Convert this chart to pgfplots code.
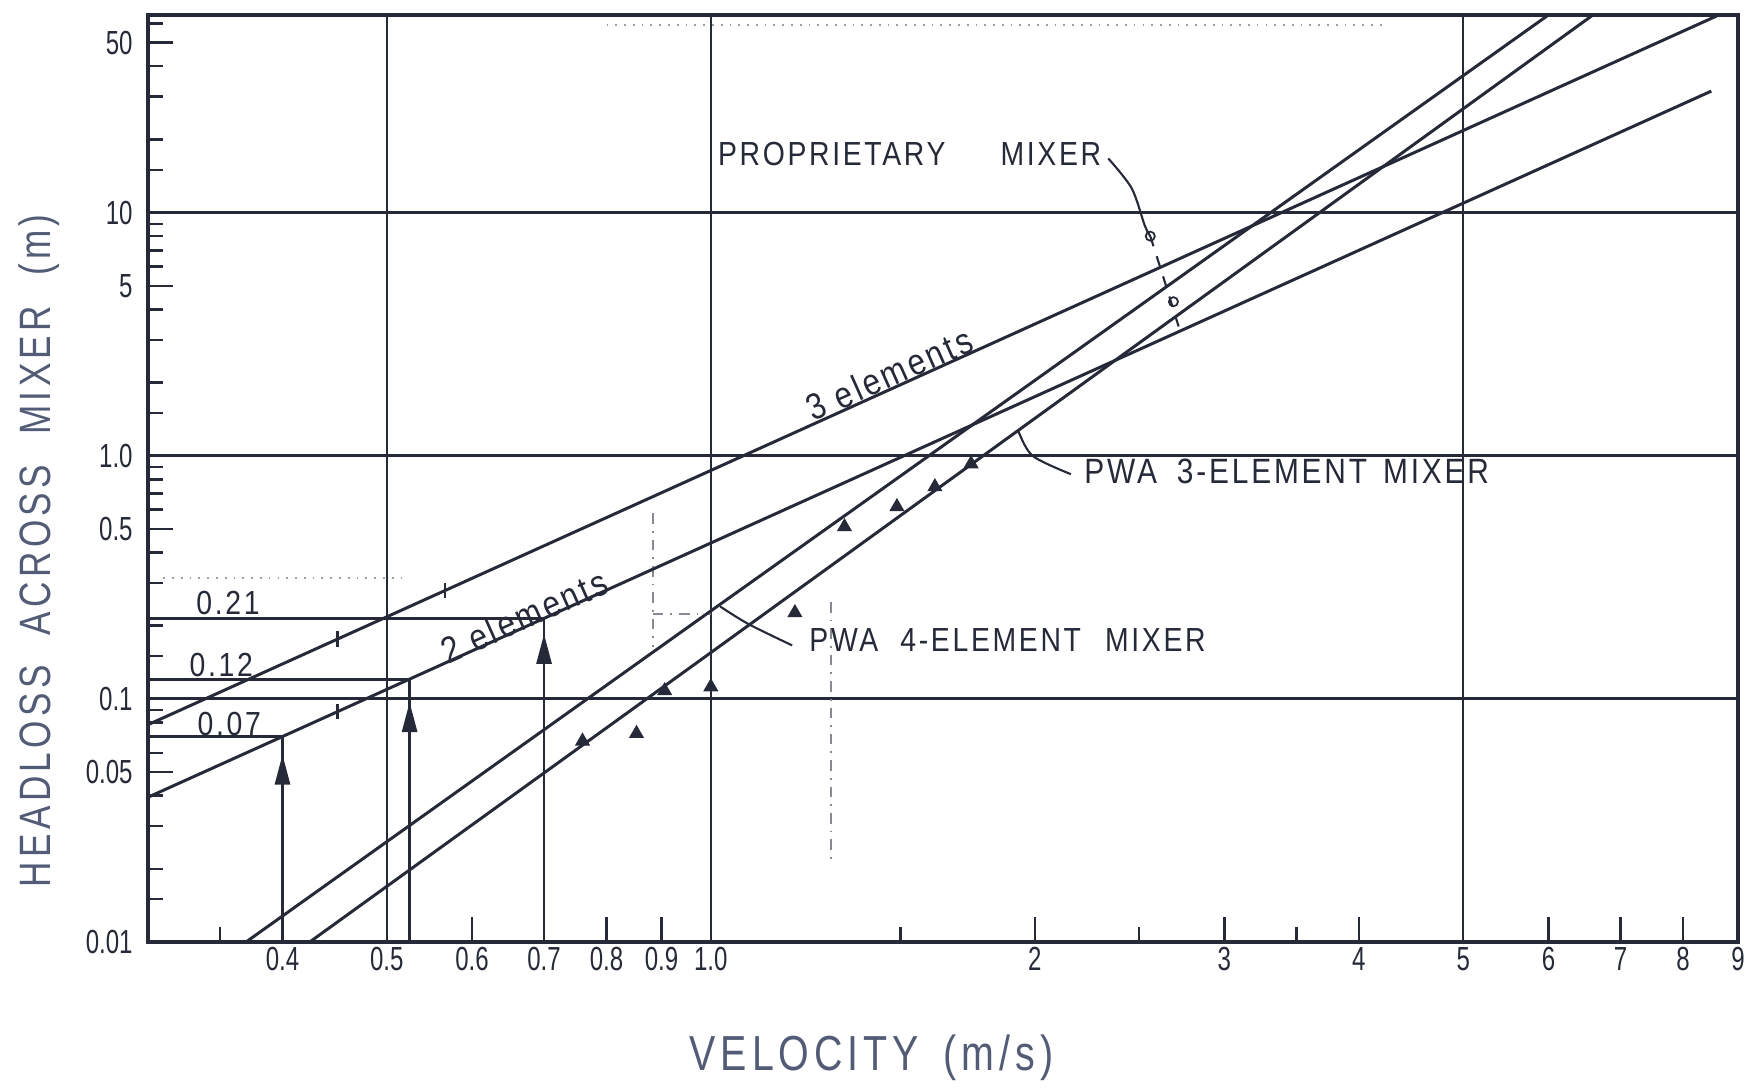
\documentclass[border=0pt]{standalone}
\usepackage{fontspec}
\setmainfont{Liberation Sans}
\newfontfamily\tfont[FakeStretch=0.72]{Liberation Sans}
\newfontfamily\afont[FakeStretch=0.85,LetterSpace=8]{Liberation Sans}
\newfontfamily\lfont[FakeStretch=0.8,LetterSpace=10]{Liberation Sans}
\usepackage{pgfplots}
\pgfplotsset{compat=1.18}
\usetikzlibrary{arrows.meta}
\definecolor{ink}{RGB}{38,42,56}
\definecolor{labink}{RGB}{82,92,118}
\begin{document}
\begin{tikzpicture}
\path[use as bounding box] (-1.48cm,-1.47cm) rectangle (15.99cm,9.42cm);
\begin{axis}[
  at={(0cm,0cm)}, anchor=south west, scale only axis,
  width=15.9cm, height=9.27cm,
  xmode=log, ymode=log,
  xmin=0.3, xmax=9, ymin=0.01, ymax=65,
  axis line style={ink, line width=1pt},
  tick pos=left, tick align=inside,
  major tick length=2.5mm, minor tick length=1.5mm,
  tick style={ink, line width=0.7pt},
  xtick={0.4,0.5,0.6,0.7,0.8,0.9,1,2,3,4,5,6,7,8,9},
  xticklabels={0.4,0.5,0.6,0.7,0.8,0.9,1.0,2,3,4,5,6,7,8,9},
  minor xtick={0.35,1.5,2.5,3.5},
  ytick={0.01,0.05,0.1,0.5,1,5,10,50},
  yticklabels={0.01,0.05,0.1,0.5,1.0,5,10,50},
  minor ytick={0.015,0.02,0.03,0.04,0.06,0.07,0.08,0.09,0.15,0.2,0.3,0.4,0.6,0.7,0.8,0.9,1.5,2,3,4,6,7,8,9,15,20,30,40,60},
  tick label style={font=\tfont\fontsize{9.5}{10}\selectfont, text=ink},
  xticklabel style={yshift=0.7mm},
  yticklabel style={xshift=-0.3mm},
  clip mode=individual,
]
% grid lines
\addplot[ink, line width=0.7pt] coordinates {(0.5,0.01) (0.5,65)};
\addplot[ink, line width=0.7pt] coordinates {(1,0.01) (1,65)};
\addplot[ink, line width=0.7pt] coordinates {(5,0.01) (5,65)};
\addplot[ink, line width=0.9pt] coordinates {(0.3,0.1) (9,0.1)};
\addplot[ink, line width=0.9pt] coordinates {(0.3,1) (9,1)};
\addplot[ink, line width=0.9pt] coordinates {(0.3,10) (9,10)};
% construction lines
\addplot[ink!45, line width=0.5pt, dotted] coordinates {(0.8,59) (4.2,59)};
\addplot[ink!45, line width=0.5pt, dotted] coordinates {(0.31,0.315) (0.52,0.315)};
\addplot[ink!55, line width=0.5pt, dash dot] coordinates {(0.883,0.58) (0.883,0.163)};
\addplot[ink!55, line width=0.5pt, dash dot] coordinates {(0.883,0.224) (1,0.224)};
\addplot[ink!55, line width=0.5pt, dash dot] coordinates {(1.293,0.25) (1.293,0.0217)};
% mixer lines
\addplot[ink, line width=0.85pt] coordinates {(0.3,0.0783) (1,0.87) (8.64,65)};
\addplot[ink, line width=0.85pt] coordinates {(0.3,0.0394) (0.4,0.07) (0.525,0.1206) (0.7,0.2144) (8.5,31.6)};
\addplot[ink, line width=0.85pt] coordinates {(0.37,0.01) (1,0.23) (6.0,65)};
\addplot[ink, line width=0.85pt] coordinates {(0.424,0.01) (1,0.155) (6.6,65)};
% level lines
\addplot[ink, line width=0.85pt] coordinates {(0.3,0.2144) (0.7,0.2144)};
\addplot[ink, line width=0.85pt] coordinates {(0.3,0.1206) (0.525,0.1206)};
\addplot[ink, line width=0.85pt] coordinates {(0.3,0.07) (0.4,0.07)};
% vertical arrows
\addplot[ink, line width=0.8pt] coordinates {(0.4,0.01) (0.4,0.07)};
\addplot[ink, line width=0.8pt] coordinates {(0.525,0.01) (0.525,0.1206)};
\addplot[ink, line width=0.8pt] coordinates {(0.7,0.01) (0.7,0.2144)};
\addplot[ink, line width=0.8pt, -{Triangle[length=3mm,width=1.5mm]}] coordinates {(0.4,0.03) (0.4,0.059)};
\addplot[ink, line width=0.8pt, -{Triangle[length=3mm,width=1.5mm]}] coordinates {(0.525,0.05) (0.525,0.097)};
\addplot[ink, line width=0.8pt, -{Triangle[length=3mm,width=1.5mm]}] coordinates {(0.7,0.1) (0.7,0.185)};
% data points
\addplot[only marks, mark=triangle*, mark size=2.1pt, ink] coordinates {(0.76,0.067) (0.853,0.072) (0.906,0.108) (1.0,0.112) (1.197,0.226) (1.331,0.51) (1.489,0.617) (1.615,0.745) (1.745,0.926)};
\addplot[only marks, mark=|, mark size=2.2pt, ink, mark options={line width=0.7pt}] coordinates {(0.45,0.176) (0.566,0.279) (0.45,0.0886)};
% pointers
\addplot[ink, line width=0.6pt, smooth] coordinates {(2.34,16.7) (2.46,12.6) (2.53,8.85) (2.56,8.0)};
\addplot[ink, line width=0.6pt, dashed] coordinates {(2.56,8.0) (2.63,5.5) (2.72,3.4)};
\addplot[only marks, mark=o, mark size=1.3pt, ink, mark options={line width=0.5pt}] coordinates {(2.56,8.0) (2.69,4.3)};
\addplot[ink, line width=0.6pt, smooth] coordinates {(1.19,0.166) (1.084,0.203) (1.02,0.24)};
\addplot[ink, line width=0.6pt, smooth] coordinates {(2.16,0.84) (1.99,1.0) (1.93,1.27)};
% annotations
\node[font=\afont\fontsize{9.5}{11}\selectfont, text=ink, anchor=west, inner sep=0pt] at (axis cs:1.014,17.4) {PROPRIETARY\hspace{5.5mm}MIXER};
\node[font=\afont\fontsize{10}{11}\selectfont, text=ink, anchor=west, inner sep=0pt] at (axis cs:2.22,0.86) {PWA\hspace{2mm}3-ELEMENT\hspace{1.6mm}MIXER};
\node[font=\afont\fontsize{9.5}{11}\selectfont, text=ink, anchor=west, inner sep=0pt] at (axis cs:1.233,0.175) {PWA\hspace{2.2mm}4-ELEMENT\hspace{2.4mm}MIXER};
\node[font=\afont\fontsize{10.5}{12}\selectfont, text=ink, rotate=24] at (axis cs:1.465,2.17) {3 elements};
\node[font=\afont\fontsize{10.5}{12}\selectfont, text=ink, rotate=24] at (axis cs:0.671,0.219) {2 elements};
\node[font=\afont\fontsize{9.5}{11}\selectfont, text=ink] at (axis cs:0.356,0.249) {0.21};
\node[font=\afont\fontsize{9.5}{11}\selectfont, text=ink] at (axis cs:0.351,0.138) {0.12};
\node[font=\afont\fontsize{9.5}{11}\selectfont, text=ink] at (axis cs:0.357,0.079) {0.07};
\node[rotate=90, font=\lfont\fontsize{12.5}{14}\selectfont, text=labink] at (rel axis cs:-0.0686,0.422) {HEADLOSS\hspace{3mm}ACROSS\hspace{3mm}MIXER\hspace{3mm}(m)};
\node[font=\lfont\fontsize{14}{16}\selectfont, text=labink] at (rel axis cs:0.455,-0.125) {VELOCITY\hspace{2.5mm}(m/s)};
\end{axis}
\end{tikzpicture}
\end{document}
